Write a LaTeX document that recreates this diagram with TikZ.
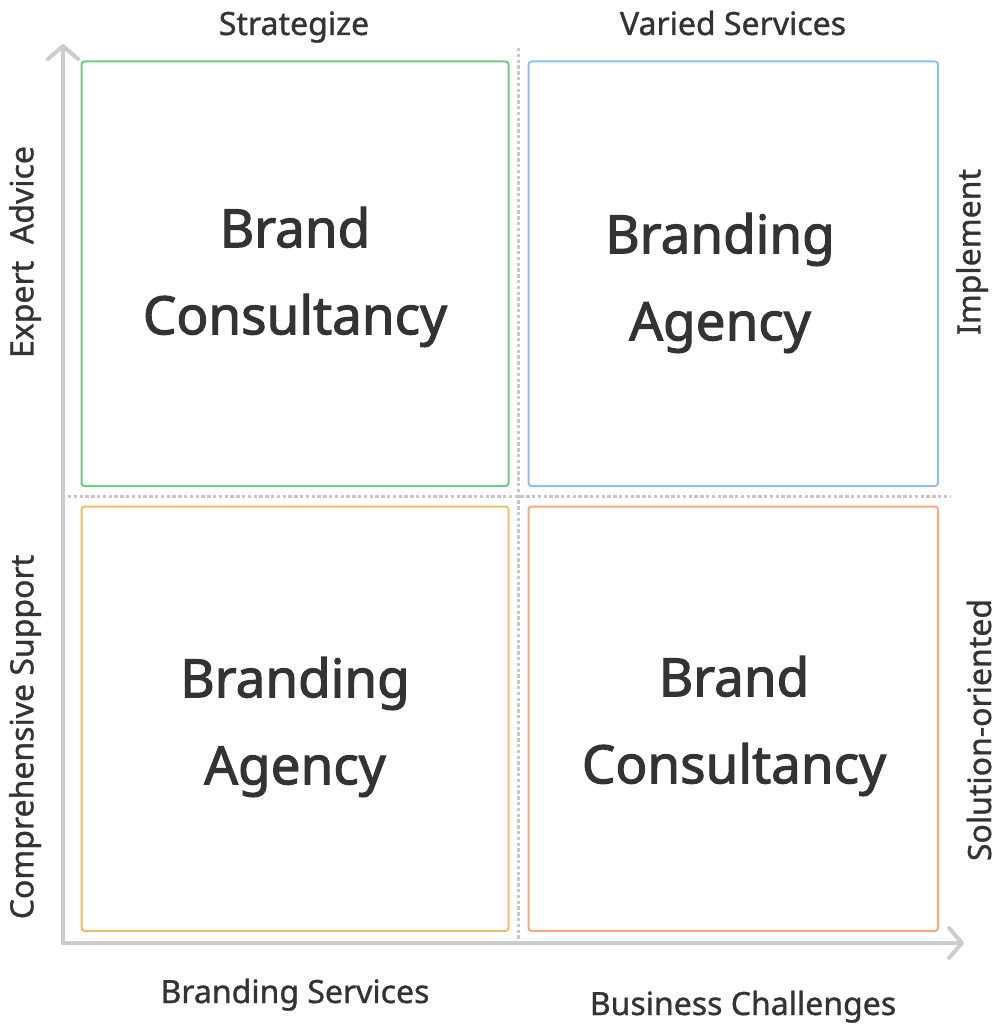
\documentclass[tikz,border=0pt]{standalone}
\usepackage{fontspec}
\setmainfont{Noto Sans}
\newfontfamily\heavyfont{Noto Sans}[FakeBold=2]
\newfontfamily\labelfont{Noto Sans}[FakeBold=1]
\usetikzlibrary{arrows.meta}
\definecolor{txt}{HTML}{333333}
\definecolor{axisgray}{HTML}{CCCCCC}
\definecolor{dotgray}{HTML}{C6C6C6}
\definecolor{qgreen}{HTML}{6DCB7E}
\definecolor{qblue}{HTML}{8FBFEF}
\definecolor{qyellow}{HTML}{EDBE6A}
\definecolor{qorange}{HTML}{F6A97A}
\tikzset{
  quad/.style={draw=#1, line width=2pt, rounded corners=3pt},
  bigtext/.style={text=txt, align=center, font=\heavyfont\fontsize{53}{87}\selectfont, inner sep=0pt},
  axlabel/.style={text=txt, font=\labelfont\fontsize{32}{38}\selectfont, inner sep=0pt},
  axisline/.style={draw=axisgray, line width=4pt, line cap=round, -{Straight Barb[length=13pt,width=30pt,line width=4pt,round]}},
  sepline/.style={draw=dotgray, line width=3pt, dash pattern=on 3.4pt off 2.4pt}
}
\begin{document}
\begin{tikzpicture}[x=1pt,y=-1pt]
\useasboundingbox (0,0) rectangle (1000,1024);
\fill[white] (0,0) rectangle (1000,1024);
% separators
\coordinate (vs) at (518,48);
\coordinate (ve) at (518,940);
\coordinate (hs) at (68,496);
\coordinate (he) at (950,496);
\draw[sepline] (vs) -- (ve);
\draw[sepline] (hs) -- (he);
% quadrant boxes
\draw[quad=qgreen] (81.5,61.5) rectangle (508.5,486);
\draw[quad=qblue] (528.5,61.5) rectangle (938,486);
\draw[quad=qyellow] (81.5,506.5) rectangle (508.5,931);
\draw[quad=qorange] (528.5,506.5) rectangle (938,931);
% axes
\coordinate (o) at (63,943);
\coordinate (ytop) at (63,44);
\coordinate (xend) at (964,943);
\draw[axisline] (o) -- (ytop);
\draw[axisline] (o) -- (xend);
% quadrant texts
\node[bigtext] (tl) at (295,277) {Brand\\Consultancy};
\node[bigtext] (tr) at (720,283) {Branding\\Agency};
\node[bigtext] (bl) at (295,727) {Branding\\Agency};
\node[bigtext] (br) at (734,726) {Brand\\Consultancy};
% axis labels
\node[axlabel, anchor=base] (strat) at (294,35) {Strategize};
\node[axlabel, anchor=base] (varied) at (733,35) {Varied Services};
\node[axlabel, anchor=base] (bserv) at (295,1003) {Branding Services};
\node[axlabel, anchor=base] (bchal) at (743,1015) {Business Challenges};
\node[axlabel, rotate=90] (expert) at (25,252) {Expert\ \ Advice};
\node[axlabel, rotate=90] (compr) at (25,737) {Comprehensive Support};
\node[axlabel, rotate=90] (impl) at (972,252) {Implement};
\node[axlabel, rotate=90] (sol) at (979,730) {Solution-oriented};
\end{tikzpicture}
\end{document}
